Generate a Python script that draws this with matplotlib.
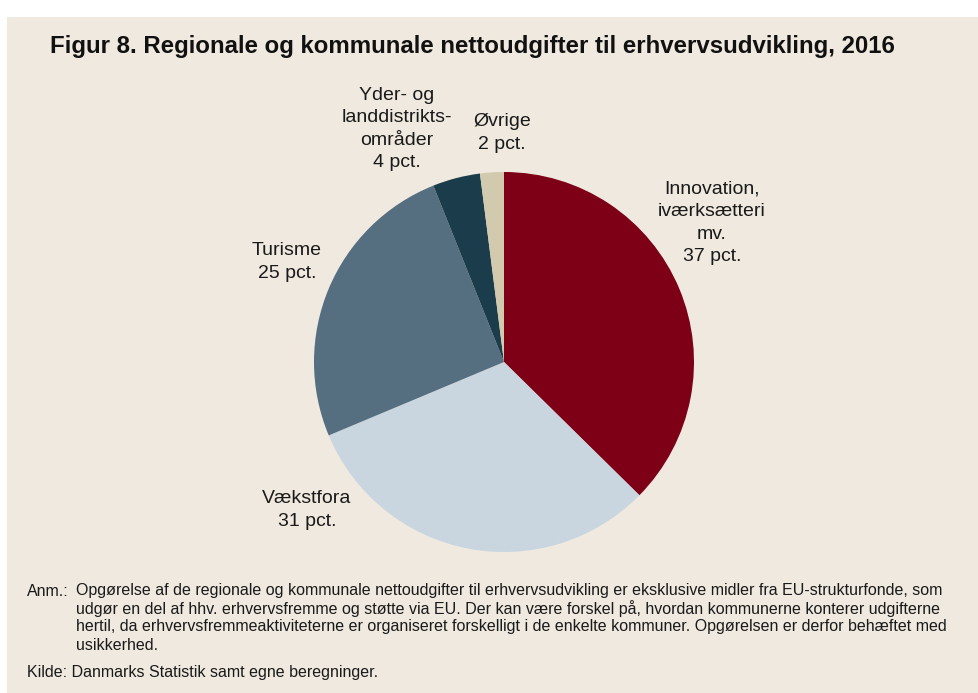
import matplotlib
matplotlib.use("Agg")
import matplotlib.pyplot as plt
from matplotlib.patches import Rectangle

plt.rcParams['font.family'] = ['Liberation Sans', 'DejaVu Sans']

categories = ["Innovation,\niværksætteri\nmv.", "Vækstfora", "Turisme",
              "Yder- og\nlanddistrikts-\nområder", "Øvrige"]
values = [37, 31, 25, 4, 2]
colors = ["#7D0017", "#C9D6DF", "#556F80", "#1B3C4A", "#D1CAAE"]
label_px = [(712, 223), (307, 510), (287, 262), (397, 129), (502, 133)]

title = "Figur 8. Regionale og kommunale nettoudgifter til erhvervsudvikling, 2016"
note_lines = [
    "Opgørelse af de regionale og kommunale nettoudgifter til erhvervsudvikling er eksklusive midler fra EU-strukturfonde, som",
    "udgør en del af hhv. erhvervsfremme og støtte via EU. Der kan være forskel på, hvordan kommunerne konterer udgifterne",
    "hertil, da erhvervsfremmeaktiviteterne er organiseret forskelligt i de enkelte kommuner. Opgørelsen er derfor behæftet med",
    "usikkerhed.",
]
source = "Kilde: Danmarks Statistik samt egne beregninger."

W, H = 979, 693
fig = plt.figure(figsize=(W / 100, H / 100), dpi=100)
fig.patch.set_facecolor("white")
bg = "#EFE9DF"
fig.add_artist(Rectangle((7 / W, 0), 1 - 7 / W, (H - 17) / H, transform=fig.transFigure,
                         facecolor=bg, edgecolor="none", zorder=0))

def fx(x):
    return x / W

def fy(y):
    return 1 - y / H

cx, cy, r = 504, 362, 190
ax = fig.add_axes([fx(cx - r), fy(cy + r), 2 * r / W, 2 * r / H])
ax.set_facecolor("none")
ax.pie(values, colors=colors, startangle=90, counterclock=False,
       wedgeprops=dict(linewidth=0))
ax.set_xlim(-1, 1)
ax.set_ylim(-1, 1)
ax.set_aspect("equal")
ax.axis("off")

for cat, v, (x, y) in zip(categories, values, label_px):
    fig.text(fx(x), fy(y), f"{cat}\n{v} pct.", ha="center", va="center",
             fontsize=14, linespacing=1.42, color="#1a1a1a")

fig.text(fx(50), fy(47), title, ha="left", va="center", fontsize=17.3,
         fontweight="bold", color="#111111")

fs = 11.5
fig.text(fx(27), fy(591), "Anm.:", ha="left", va="center", fontsize=fs, color="#1a1a1a")
for i, line in enumerate(note_lines):
    fig.text(fx(76), fy(591 + i * 18), line, ha="left", va="center", fontsize=fs, color="#1a1a1a")
fig.text(fx(27), fy(672), source, ha="left", va="center", fontsize=fs, color="#1a1a1a")

fig.savefig("out.png", dpi=100, facecolor=fig.get_facecolor())
